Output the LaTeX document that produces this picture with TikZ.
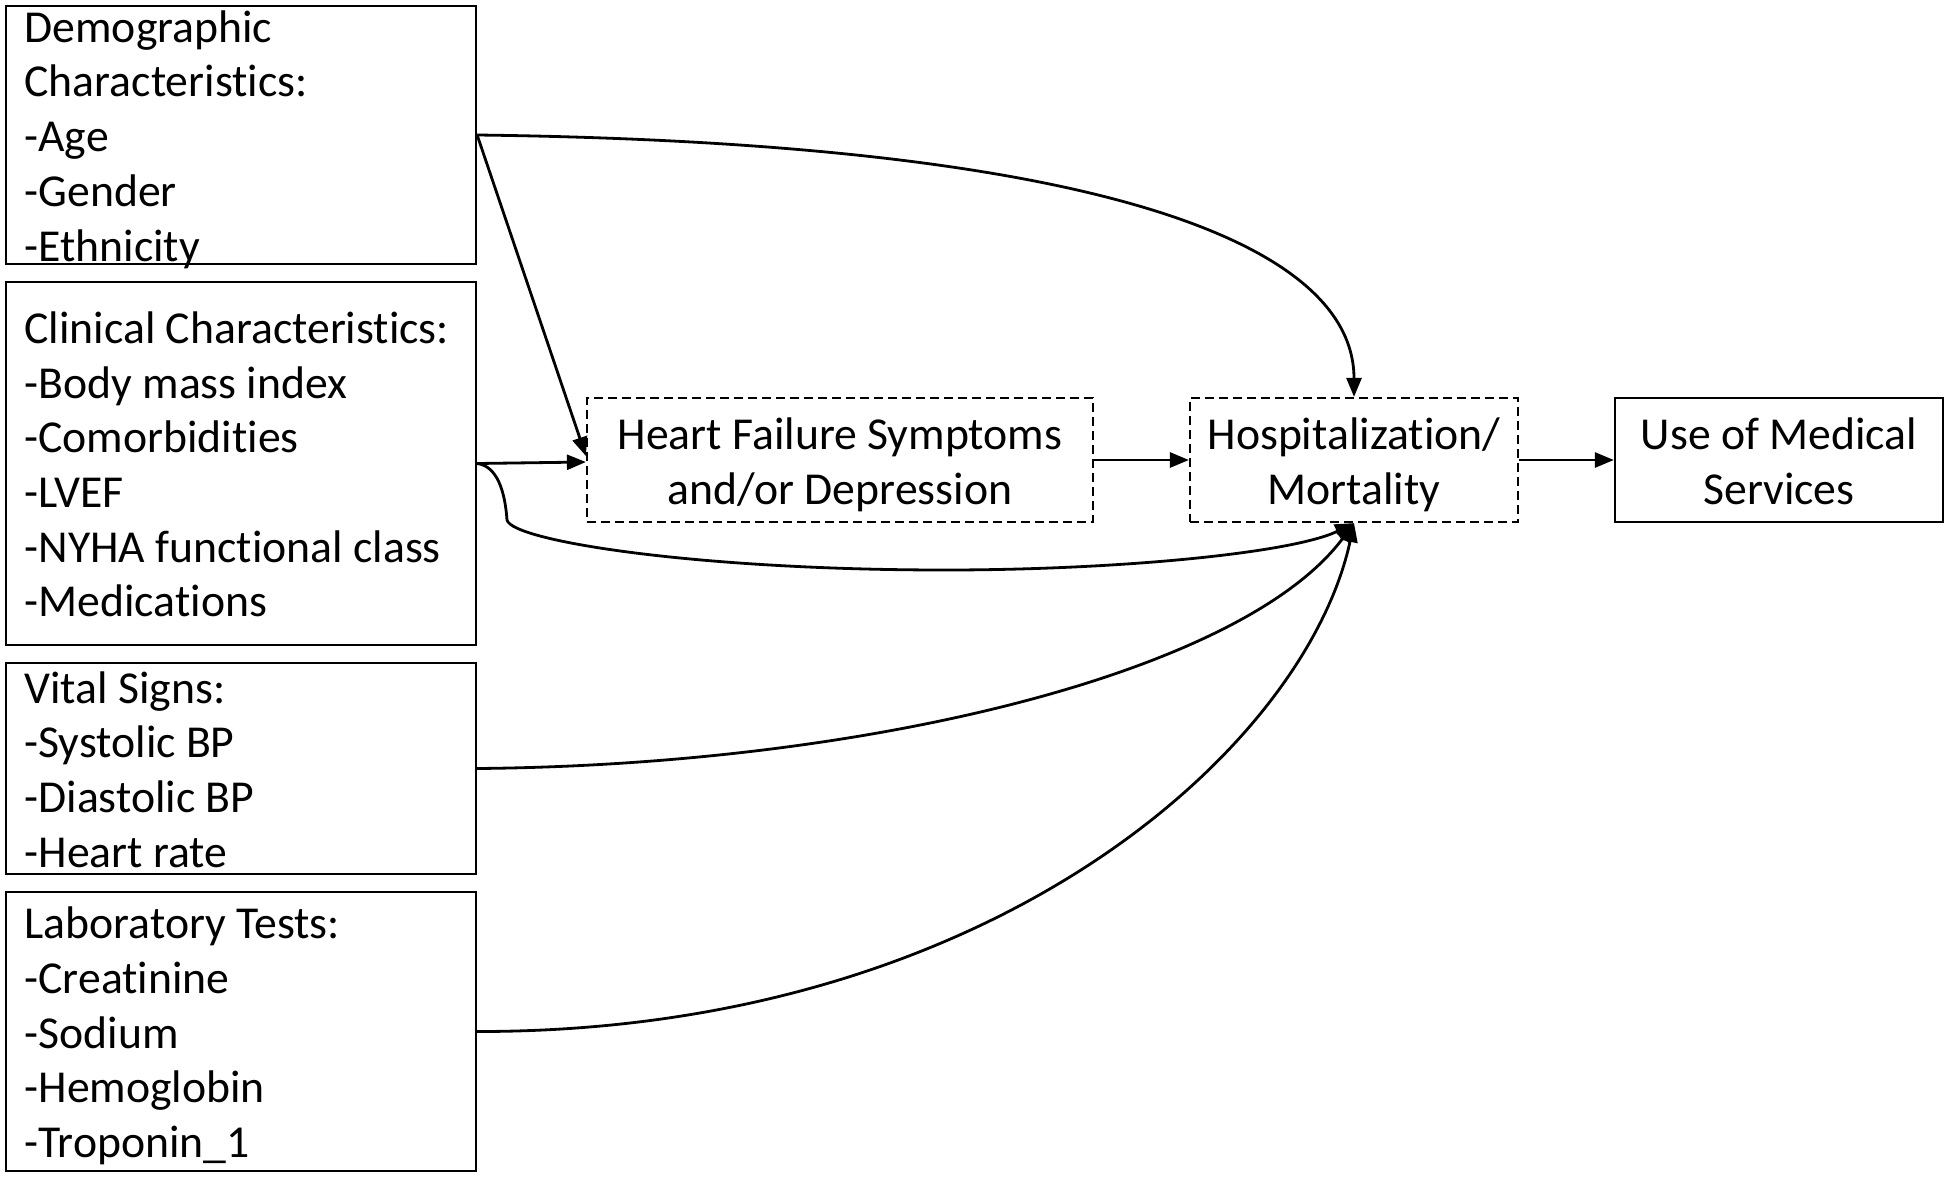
\documentclass[tikz,border=0pt]{standalone}
\usepackage{fontspec}
\setmainfont[Ligatures=NoCommon]{Carlito}
\usetikzlibrary{arrows.meta}
\newcommand\lst{\rule[-14.7pt]{0pt}{54.7pt}}
\tikzset{
  box/.style={draw, line width=2.3pt, inner sep=0pt},
  dbox/.style={draw, line width=2.2pt, inner sep=0pt, dash pattern=on 9pt off 5pt},
  txt/.style={inner sep=0pt, yshift=-4pt, font=\fontsize{45.7}{54.7}\selectfont},
  ltxt/.style={txt, align=left, anchor=west, xshift=19.5pt},
  arr/.style={line width=2.8pt, -{Triangle[length=19pt,width=15pt]}}
}
\begin{document}
\begin{tikzpicture}[x=1pt,y=-1pt]
\useasboundingbox (0,0) rectangle (1950,1178);
% left boxes
\node[box, minimum width=470pt, minimum height=258pt] (demo) at (241,135) {};
\node[ltxt] (demoT) at (demo.west)
 {\lst Demographic\\\lst Characteristics:\\\lst -Age\\\lst -Gender\\\lst -Ethnicity};
\node[box, minimum width=470pt, minimum height=363pt] (clin) at (241,463.5) {};
\node[ltxt] (clinT) at (clin.west)
 {\lst Clinical Characteristics:\\\lst -Body mass index\\\lst -Comorbidities\\\lst -LVEF\\\lst -NYHA functional class\\\lst -Medications};
\node[box, minimum width=470pt, minimum height=211pt] (vital) at (241,768.5) {};
\node[ltxt] (vitalT) at (vital.west)
 {\lst Vital Signs:\\\lst -Systolic BP\\\lst -Diastolic BP\\\lst -Heart rate};
\node[box, minimum width=470pt, minimum height=279pt] (lab) at (241,1031.5) {};
\node[ltxt] (labT) at (lab.west)
 {\lst Laboratory Tests:\\\lst -Creatinine\\\lst -Sodium\\\lst -Hemoglobin\\\lst -Troponin\_1};
% right boxes
\node[dbox, minimum width=506pt, minimum height=124pt] (hf) at (840,460) {};
\node[txt, align=center] (hfT) at (hf.center) {\lst Heart Failure Symptoms\\\lst and/or Depression};
\node[dbox, minimum width=328pt, minimum height=124pt] (hosp) at (1354,460) {};
\node[txt, align=center] (hospT) at (hosp.center) {\lst Hospitalization/\\\lst Mortality};
\node[box, minimum width=328pt, minimum height=124pt] (use) at (1779,460) {};
\node[txt, align=center] (useT) at (use.center) {\lst Use of Medical\\\lst Services};
% connectors
\draw[arr] (demo.east) .. controls (1119,143) and (1354,249) .. (hosp.north);
\draw[arr] (demo.east) -- ([yshift=4pt]hf.west);
\draw[arr] (clin.east) -- ([yshift=-2pt]hf.west);
\draw[arr] (clin.east) .. controls (497,466) and (505,491) .. (507,520)
  .. controls (512,541) and (696,570) .. (945,570)
  .. controls (1119,570) and (1293,553) .. (hosp.south);
\draw[arr] (vital.east) .. controls (870,765) and (1244,672) .. (hosp.south);
\draw[arr] (lab.east) .. controls (995,1032) and (1306,746) .. (hosp.south);
\draw[arr] (hf.east) -- (hosp.west);
\draw[arr] (hosp.east) -- (use.west);
\end{tikzpicture}
\end{document}
